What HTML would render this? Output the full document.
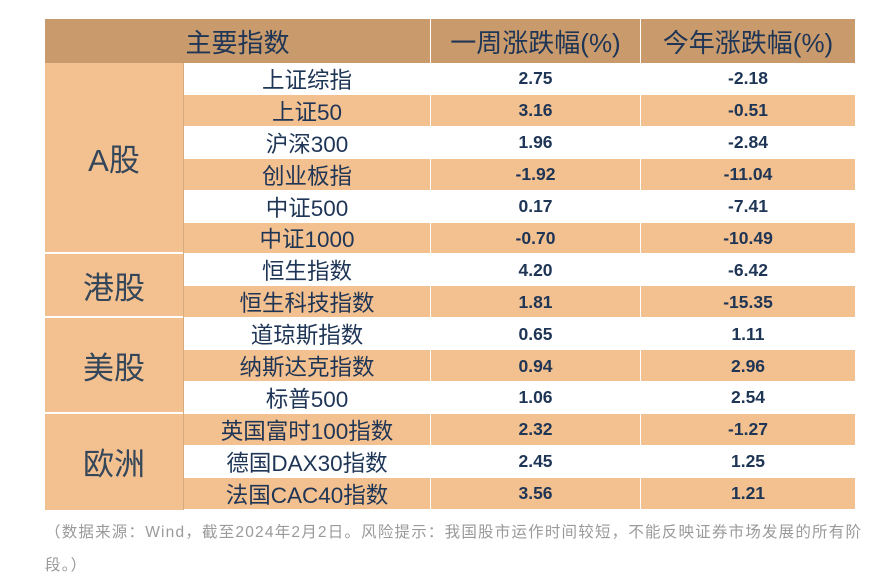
<!DOCTYPE html>
<html><head><meta charset="utf-8">
<style>
body{margin:0;width:883px;height:586px;background:#fff;position:relative;overflow:hidden;font-family:"Liberation Sans","Noto Sans CJK SC",sans-serif;}
.c{position:absolute;display:flex;align-items:center;justify-content:center;box-sizing:border-box;color:#1e3556;}
.h{background:#c99a6c;font-size:26px;color:#1e3556;}
.num{font-weight:bold;font-size:17.5px;}
.nm{font-size:22.5px;}
.g{background:#f3c08f;font-size:31px;color:#34465a;}
.note{position:absolute;left:45px;top:516px;width:830px;font-size:15.5px;letter-spacing:1.2px;color:#9a9a9a;line-height:33px;white-space:nowrap;}
</style></head><body>
<div class="c h" style="left:45px;top:19px;width:385px;height:44px;">主要指数</div>
<div class="c h" style="left:431px;top:19px;width:209px;height:44px;">一周涨跌幅(%)</div>
<div class="c h" style="left:641px;top:19px;width:214px;height:44px;">今年涨跌幅(%)</div>
<div class="note">（数据来源：Wind，截至2024年2月2日。风险提示：我国股市运作时间较短，不能反映证券市场发展的所有阶<br>段。）</div>
<script>
const names=["上证综指","上证50","沪深300","创业板指","中证500","中证1000","恒生指数","恒生科技指数","道琼斯指数","纳斯达克指数","标普500","英国富时100指数","德国DAX30指数","法国CAC40指数"];
const weekly=["2.75","3.16","1.96","-1.92","0.17","-0.70","4.20","1.81","0.65","0.94","1.06","2.32","2.45","3.56"];
const ytd=["-2.18","-0.51","-2.84","-11.04","-7.41","-10.49","-6.42","-15.35","1.11","2.96","2.54","-1.27","1.25","1.21"];
const groups=["A股","港股","美股","欧洲"];
const groupSizes=[6,2,3,3];
const T=document.body,top0=63,rh=31.9;
function cell(txt,cls,l,t,w,h,bg,name){const d=document.createElement('div');d.className='c '+cls;d.textContent=txt;d.style.cssText=`left:${l}px;top:${t}px;width:${w}px;height:${h}px;background:${bg};`;


T.appendChild(d);return d;}
names.forEach((n,i)=>{const y=top0+i*rh,bg=i%2?'#f3c08f':'#fff';
cell(n,'nm',184,y,246,rh,bg,'index-name');
cell(weekly[i],'num',431,y,209,rh,bg,'weekly-value');
cell(ytd[i],'num',641,y,214,rh,bg,'ytd-value');
const s=document.createElement('div');s.style.cssText=`position:absolute;left:184px;top:${y+rh-1}px;width:671px;height:1px;background:#fff;`;T.appendChild(s);});
let r=0;groups.forEach((g,i)=>{const y=top0+r*rh,h=groupSizes[i]*rh;cell(g,'g',45,y,138,h-(i<3?2:0),'#f3c08f','group-label');r+=groupSizes[i];});
const vl=document.createElement('div');vl.style.cssText='position:absolute;left:183px;top:63px;width:1px;height:447px;background:#d6ab80;';T.appendChild(vl);
[430,640].forEach(x=>{const v=document.createElement('div');v.style.cssText=`position:absolute;left:${x}px;top:19px;width:1px;height:491px;background:#fff;`;T.appendChild(v);});
</script>
</body></html>
